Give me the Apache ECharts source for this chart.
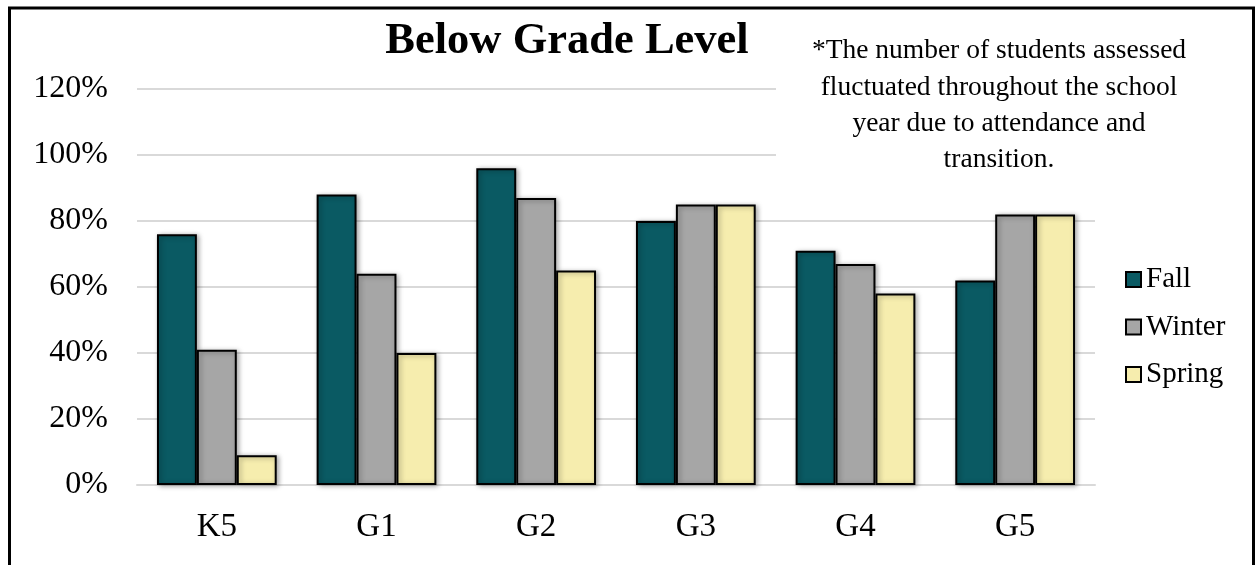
<!DOCTYPE html>
<html><head><meta charset="utf-8">
<script src="https://cdn.jsdelivr.net/npm/echarts@6/dist/echarts.min.js"></script>
<style>html,body{margin:0;padding:0;background:#fff}#c{width:1255px;height:565px}</style>
</head><body><div id="c"></div>
<script>
const categories = ['K5','G1','G2','G3','G4','G5'];
const fall = [76, 88, 96, 80, 71, 62];
const winter = [41, 64, 87, 85, 67, 82];
const spring = [9, 40, 65, 85, 58, 82];
const seriesNames = ['Fall','Winter','Spring'];
const titleText = 'Below Grade Level';
const noteText = '*The number of students assessed\nfluctuated throughout the school\nyear due to attendance and\ntransition.';

const FONT = '"Liberation Serif", "Times New Roman", serif';
const colors = ['#0a5a63', '#a6a6a6', '#f6edae'];
const chart = echarts.init(document.getElementById('c'));
const mk = (name, data, i) => ({
  name, type: 'bar', data, barGap: '0%', barCategoryGap: '25%',
  itemStyle: { color: colors[i], borderColor: '#000', borderWidth: 2,
    shadowColor: 'rgba(0,0,0,0.35)', shadowBlur: 5, shadowOffsetX: 2, shadowOffsetY: 1 },
  z: 3
});
chart.setOption({
  animation: false,
  backgroundColor: '#fff',
  legend: { orient: 'vertical', left: 1120, top: 260, itemGap: 18.5, itemWidth: 15, itemHeight: 15,
    icon: 'rect', textStyle: { fontFamily: FONT, fontSize: 29, color: '#000' },
    data: seriesNames },
  grid: { left: 137, right: 160, top: 89, bottom: 80, containLabel: false },
  xAxis: { type: 'category', data: categories,
    axisLine: { lineStyle: { color: '#d9d9d9', width: 2 } }, axisTick: { show: false },
    axisLabel: { fontFamily: FONT, fontSize: 33, color: '#000', margin: 26 } },
  yAxis: { type: 'value', min: 0, max: 120, interval: 20,
    axisLabel: { fontFamily: FONT, fontSize: 32, color: '#000', margin: 29, formatter: v => v + '%' },
    splitLine: { lineStyle: { color: '#d9d9d9', width: 2 } },
    axisLine: { show: false }, axisTick: { show: false } },
  series: [mk(seriesNames[0], fall, 0), mk(seriesNames[1], winter, 1), mk(seriesNames[2], spring, 2)],
  graphic: [
    { type: 'rect', x: 9.5, y: 8, z: 100, silent: true,
      shape: { width: 1244, height: 600 }, style: { fill: 'none', stroke: '#000', lineWidth: 3 } },
    { type: 'text', x: 567, y: 41, z: 60,
      style: { text: titleText, fontFamily: FONT, fontSize: 44.5, fontWeight: 'bold', fill: '#000',
        align: 'center', verticalAlign: 'middle' } },
    { type: 'rect', x: 776, y: 22, z: 50, shape: { width: 440, height: 170 }, style: { fill: '#fff' } },
    { type: 'text', x: 999, y: 33, z: 51,
      style: { text: noteText, fontFamily: FONT, fontSize: 27.5, lineHeight: 36.3, fill: '#000',
        align: 'center', verticalAlign: 'top' } }
  ]
});
</script></body></html>
